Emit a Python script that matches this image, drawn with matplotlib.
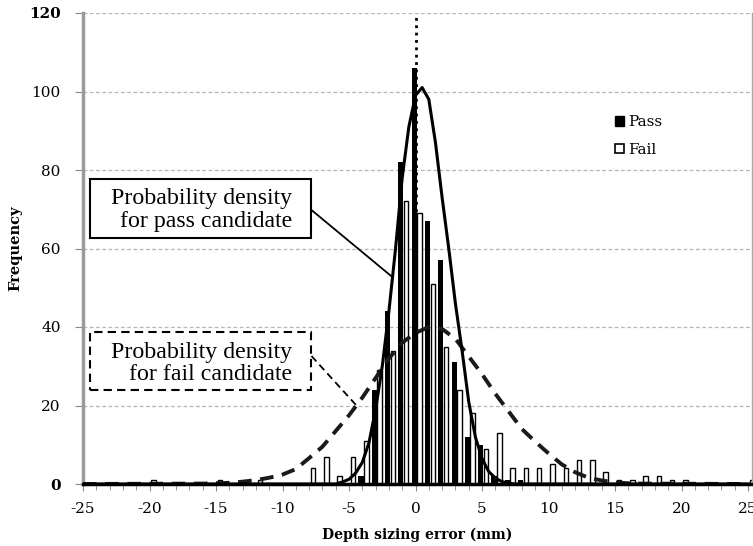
import matplotlib.pyplot as plt
from matplotlib.patches import Rectangle, Patch

# histogram categories (mm) and counts
bins = list(range(-25, 26))
pass_counts = [
    0, 0, 0, 0, 0, 0, 0, 0, 0, 0,          # -25..-16
    0, 0, 0, 0, 0, 0, 0, 0, 0, 0,          # -15..-6
    0, 2, 24, 44, 82, 106, 67, 57, 31, 12,  # -5..4
    10, 2, 1, 1, 0, 0, 0, 0, 0, 0,         # 5..14
    0, 0, 0, 0, 0, 0, 0, 0, 0, 0,          # 15..24
    0]                                     # 25
fail_counts = [
    0, 0, 0, 0, 0, 1, 0, 0, 0, 0,
    1, 0, 0, 1, 0, 0, 0, 4, 7, 2,
    7, 11, 29, 34, 72, 69, 51, 35, 24, 18,
    9, 13, 4, 4, 4, 5, 4, 6, 6, 3,
    1, 1, 2, 2, 1, 1, 0, 0, 0, 0,
    1]

# probability density curves (in frequency units)
pass_curve_x = [-25, -6, -5.5, -5, -4.5, -4, -3.5, -3, -2.5, -2, -1.5, -1, -0.5, 0,
                0.5, 1, 1.5, 2, 2.5, 3, 3.5, 4, 4.5, 5, 5.5, 6, 6.5, 7, 7.5, 25]
pass_curve_y = [0, 0, 0.5, 1.2, 2.8, 5.5, 10.5, 19, 30, 44, 60, 78, 91, 99,
                101, 98, 87, 73, 60, 46, 34, 21, 12, 6.5, 3.2, 1.5, 0.6, 0.2, 0, 0]
fail_curve_x = [-25, -16, -15, -14, -13, -12, -11, -10, -9, -8, -7, -6, -5, -4, -3, -2, -1, 0,
                1, 2, 3, 4, 5, 6, 7, 8, 9, 10, 11, 12, 13, 14, 15, 16, 17, 25]
fail_curve_y = [0, 0.1, 0.2, 0.3, 0.6, 1.0, 1.6, 2.4, 3.8, 6.6, 9.5, 13.5, 17.5, 22, 27, 32, 36, 38.5,
                40, 39.5, 37, 32.5, 28, 23, 18.5, 14, 10.8, 7.8, 5, 3, 1.6, 0.9, 0.4, 0.2, 0.1, 0]

legend_labels = ['Pass', 'Fail']
pass_note = 'Probability density\nfor pass candidate'
fail_note = 'Probability density\nfor fail candidate'

serif = 'DejaVu Serif'
times = 'Liberation Serif'

fig = plt.figure(figsize=(7.53, 5.46), dpi=100)
ax = fig.add_axes([83 / 753, 1 - 484 / 546, 669 / 753, 471 / 546])

ax.bar([b - 0.1 for b in bins], pass_counts, width=0.38, color='black', zorder=2)
ax.bar([b + 0.3 for b in bins], fail_counts, width=0.34, facecolor='white',
       edgecolor='black', linewidth=1.0, zorder=2)

ax.axvline(0, color='black', linestyle=':', linewidth=2, zorder=3)

ax.plot(fail_curve_x, fail_curve_y, color='#1a1a1a', linewidth=2.8,
        dashes=(3.5, 2.2), zorder=4)
ax.plot(pass_curve_x, pass_curve_y, color='black', linewidth=2.2, zorder=4)

ax.set_xlim(-25, 25.3)
ax.set_ylim(0, 120)
ax.set_xticks(range(-25, 26, 5))
ax.set_xticks(range(-25, 26), minor=True)
ax.set_yticks(range(0, 121, 20))
ax.yaxis.grid(True, linestyle=(0, (3, 2)), color='#b5b5b5', linewidth=0.9)
ax.set_axisbelow(True)

ax.tick_params(axis='both', which='both', direction='out', color='#888888',
               labelsize=11, labelfontfamily=serif)
ax.tick_params(axis='x', which='major', length=5, pad=8)
ax.tick_params(axis='x', which='minor', length=4)
ax.tick_params(axis='y', length=6, pad=10)
ax.set_xticklabels([str(v) for v in range(-25, 26, 5)])
ylabels = ax.get_yticklabels()
ylabels[0].set_fontweight('bold')
ylabels[-1].set_fontweight('bold')

ax.spines['top'].set_visible(False)
ax.spines['right'].set_color('#aaaaaa')
ax.spines['right'].set_linewidth(1)
ax.spines['left'].set_color('#9a9a9a')
ax.spines['left'].set_linewidth(2.5)
ax.spines['bottom'].set_color('black')
ax.spines['bottom'].set_linewidth(2.5)

ax.set_xlabel('Depth sizing error (mm)', fontfamily=serif, fontweight='bold',
              fontsize=10, labelpad=8)
ax.set_ylabel('Frequency', fontfamily=serif, fontweight='bold', fontsize=10.5,
              labelpad=5)

# annotation boxes
ax.add_patch(Rectangle((-24.44, 62.7), 16.62, 15.0, facecolor='white',
                       edgecolor='black', linewidth=1.5, zorder=5))
ax.text(-9.25, 69.9, pass_note, ha='right', va='center', multialignment='right',
        fontsize=17.2, family=times, linespacing=1.12, zorder=6)
ax.plot([-7.82, -1.8], [69.8, 52.9], color='black', linewidth=1.3, zorder=5)

ax.add_patch(Rectangle((-24.44, 24.0), 16.62, 14.7, facecolor='white',
                       edgecolor='black', linewidth=1.5, linestyle=(0, (4, 2.5)),
                       zorder=5))
ax.text(-9.25, 30.7, fail_note, ha='right', va='center', multialignment='right',
        fontsize=17.2, family=times, linespacing=1.12, zorder=6)
ax.plot([-7.82, -4.44], [32.6, 20.0], color='black', linewidth=1.3,
        linestyle=(0, (4, 2.5)), zorder=5)

handles = [Patch(facecolor='black', edgecolor='black'),
           Patch(facecolor='white', edgecolor='black', linewidth=1.2)]
ax.legend(handles, legend_labels, loc='upper left', bbox_to_anchor=(0.795, 0.783),
          frameon=False, prop={'family': serif, 'size': 11}, handlelength=0.6,
          handleheight=0.6, handletextpad=0.3, labelspacing=0.9,
          borderaxespad=0, borderpad=0)

plt.savefig('out.png', dpi=100)
plt.close()
